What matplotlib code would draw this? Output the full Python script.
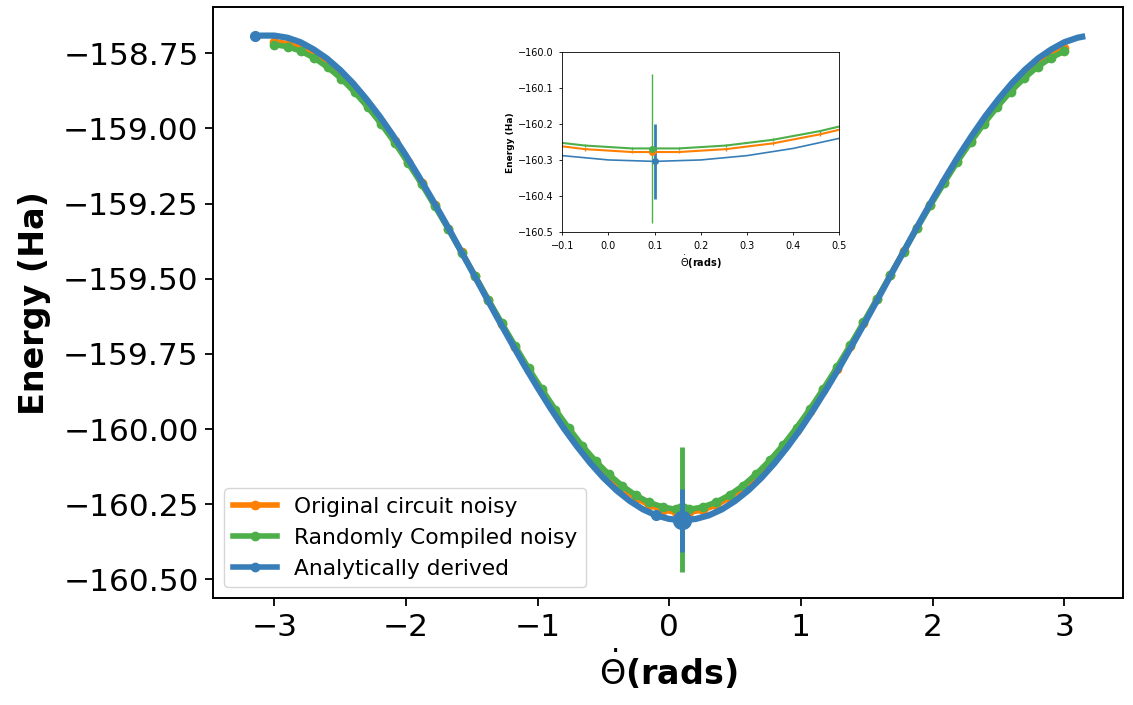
import matplotlib
matplotlib.use("Agg")
import matplotlib.pyplot as plt
from matplotlib.ticker import FuncFormatter
from matplotlib.lines import Line2D

# ---------------- data ----------------
# analytic curve (theta in rads, energy in Ha)
theta_an = [-3.142, -3.1, -3.0, -2.9, -2.8, -2.7, -2.6, -2.5, -2.4, -2.3, -2.2, -2.1,
            -2.0, -1.9, -1.8, -1.7, -1.6, -1.5, -1.4, -1.3, -1.2, -1.1, -1.0, -0.9,
            -0.8, -0.7, -0.6, -0.5, -0.4, -0.3, -0.2, -0.1, 0.0, 0.1, 0.2, 0.3, 0.4,
            0.5, 0.6, 0.7, 0.8, 0.9, 1.0, 1.1, 1.2, 1.3, 1.4, 1.5, 1.6, 1.7, 1.8, 1.9,
            2.0, 2.1, 2.2, 2.3, 2.4, 2.5, 2.6, 2.7, 2.8, 2.9, 3.0, 3.1, 3.135]
energy_an = [-158.694, -158.691, -158.691, -158.698, -158.713, -158.737, -158.767,
             -158.805, -158.850, -158.902, -158.959, -159.022, -159.089, -159.161,
             -159.236, -159.313, -159.393, -159.473, -159.554, -159.634, -159.712,
             -159.789, -159.862, -159.932, -159.998, -160.058, -160.113, -160.162,
             -160.204, -160.239, -160.267, -160.287, -160.299, -160.303, -160.299,
             -160.287, -160.267, -160.239, -160.204, -160.162, -160.113, -160.058,
             -159.998, -159.932, -159.862, -159.789, -159.712, -159.634, -159.554,
             -159.473, -159.393, -159.313, -159.236, -159.161, -159.089, -159.022,
             -158.959, -158.902, -158.850, -158.805, -158.767, -158.737, -158.713,
             -158.698, -158.695]

# noisy simulations
theta_noisy = [-3.0000, -2.8983, -2.7966, -2.6949, -2.5932, -2.4915, -2.3898, -2.2881,
               -2.1864, -2.0847, -1.9831, -1.8814, -1.7797, -1.6780, -1.5763, -1.4746,
               -1.3729, -1.2712, -1.1695, -1.0678, -0.9661, -0.8644, -0.7627, -0.6610,
               -0.5593, -0.4576, -0.3559, -0.2542, -0.1525, -0.0508, 0.0508, 0.1525,
               0.2542, 0.3559, 0.4576, 0.5593, 0.6610, 0.7627, 0.8644, 0.9661, 1.0678,
               1.1695, 1.2712, 1.3729, 1.4746, 1.5763, 1.6780, 1.7797, 1.8814, 1.9831,
               2.0847, 2.1864, 2.2881, 2.3898, 2.4915, 2.5932, 2.6949, 2.7966, 2.8983,
               3.0000]
energy_orig = [-158.711, -158.718, -158.733, -158.757, -158.788, -158.826, -158.871,
               -158.922, -158.980, -159.042, -159.110, -159.181, -159.256, -159.333,
               -159.411, -159.491, -159.571, -159.650, -159.727, -159.802, -159.873,
               -159.941, -160.004, -160.062, -160.114, -160.159, -160.198, -160.229,
               -160.253, -160.269, -160.277, -160.277, -160.269, -160.253, -160.228,
               -160.197, -160.158, -160.112, -160.060, -160.002, -159.939, -159.871,
               -159.799, -159.724, -159.647, -159.568, -159.488, -159.409, -159.330,
               -159.253, -159.179, -159.108, -159.040, -158.978, -158.920, -158.869,
               -158.824, -158.786, -158.756, -158.733]
energy_rc = [-158.721, -158.728, -158.743, -158.766, -158.797, -158.834, -158.879,
             -158.930, -158.986, -159.048, -159.115, -159.185, -159.259, -159.335,
             -159.413, -159.491, -159.570, -159.648, -159.724, -159.798, -159.868,
             -159.935, -159.997, -160.055, -160.106, -160.151, -160.189, -160.220,
             -160.244, -160.259, -160.267, -160.267, -160.259, -160.243, -160.219,
             -160.188, -160.149, -160.104, -160.053, -159.995, -159.933, -159.866,
             -159.795, -159.721, -159.645, -159.567, -159.488, -159.410, -159.332,
             -159.256, -159.183, -159.112, -159.046, -158.984, -158.928, -158.877,
             -158.833, -158.795, -158.765, -158.743]
noisy_err = 0.004

# optimum points with error bars
opt_theta_noisy = 0.095
opt_orig, opt_orig_err = -160.278, 0.004
opt_rc, opt_rc_err = -160.268, 0.207
opt_theta_an = 0.1
opt_an, opt_an_err = -160.303, 0.105
extra_an_theta, extra_an_energy = -0.1, -160.287

main_yticks = [-158.75, -159.0, -159.25, -159.5, -159.75, -160.0, -160.25, -160.5]
inset_xticks = [-0.1, 0.0, 0.1, 0.2, 0.3, 0.4, 0.5]
inset_yticks = [-160.0, -160.1, -160.2, -160.3, -160.4, -160.5]

labels = ["Original circuit noisy", "Randomly Compiled noisy", "Analytically derived"]
C_OR, C_GR, C_BL = "#ff7f00", "#4daf4a", "#377eb8"


def fmt(nd):
    return FuncFormatter(lambda v, p: f"{v:.{nd}f}".replace('-', '\u2212'))


# ---------------- figure ----------------
fig = plt.figure(figsize=(11.33, 7.05), dpi=100)
ax = fig.add_axes([0.1883, 0.1513, 0.9914 - 0.1883, 0.9896 - 0.1513])

ax.plot(theta_noisy, energy_orig, color=C_OR, lw=4, marker='o', ms=6, zorder=2)
ax.plot(theta_noisy, energy_rc, color=C_GR, lw=4, marker='o', ms=6, zorder=3)
ax.errorbar([opt_theta_noisy], [opt_orig], yerr=[opt_orig_err], color=C_OR, marker='o',
            ms=10, elinewidth=3, zorder=3)
ax.errorbar([opt_theta_noisy], [opt_rc], yerr=[opt_rc_err], color=C_GR, marker='o',
            ms=10, elinewidth=3.5, zorder=3.5)
ax.plot(theta_an, energy_an, color=C_BL, lw=4.5, zorder=4)
ax.plot([theta_an[0]], [energy_an[0]], color=C_BL, marker='o', ms=7, zorder=4)
ax.plot([extra_an_theta], [extra_an_energy], color=C_BL, marker='o', ms=7, zorder=4)
ax.errorbar([opt_theta_an], [opt_an], yerr=[opt_an_err], color=C_BL, marker='o',
            ms=13, elinewidth=3.5, zorder=5)

ax.set_xlim(-3.462, 3.447)
ax.set_ylim(-160.563, -158.597)
ax.set_yticks(main_yticks)
ax.yaxis.set_major_formatter(fmt(2))
ax.tick_params(labelsize=22.5, length=6, width=1.3, pad=4.5)
for s in ax.spines.values():
    s.set_linewidth(1.4)
ax.set_xlabel(r'$\dot{\Theta}$(rads)', fontsize=24, fontweight='bold')
ax.set_ylabel('Energy (Ha)', fontsize=24, fontweight='bold', labelpad=9)

handles = [Line2D([], [], color=c, lw=4, marker='o', ms=6) for c in (C_OR, C_GR, C_BL)]
ax.legend(handles, labels, loc='lower left', fontsize=15.7, framealpha=0.8,
          handlelength=2.0, borderaxespad=0.5)

# ---------------- inset ----------------
ins = fig.add_axes([0.4963, 0.6705, 0.2445, 0.2553])
ins.errorbar(theta_noisy, energy_orig, yerr=noisy_err, color=C_OR, lw=1.5, elinewidth=1)
ins.errorbar(theta_noisy, energy_rc, yerr=noisy_err, color=C_GR, lw=1.5, elinewidth=1)
ins.plot(theta_an, energy_an, color=C_BL, lw=1.2)
ins.errorbar([opt_theta_noisy], [opt_orig], yerr=[opt_orig_err], color=C_OR, marker='o', ms=4)
ins.errorbar([opt_theta_noisy], [opt_rc], yerr=[opt_rc_err], color=C_GR, marker='o', ms=4,
             elinewidth=1)
ins.errorbar([opt_theta_an], [opt_an], yerr=[opt_an_err], color=C_BL, marker='o', ms=4,
             elinewidth=2)
ins.set_xlim(-0.1, 0.5)
ins.set_ylim(-160.5, -160.0)
ins.set_xticks(inset_xticks)
ins.set_yticks(inset_yticks)
ins.yaxis.set_major_formatter(fmt(1))
ins.xaxis.set_major_formatter(fmt(1))
ins.tick_params(labelsize=7, length=2.5, width=0.6)
for s in ins.spines.values():
    s.set_linewidth(0.6)
ins.set_xlabel(r'$\dot{\Theta}$(rads)', fontsize=7, fontweight='bold', labelpad=2)
ins.set_ylabel('Energy (Ha)', fontsize=6.5, fontweight='bold', labelpad=2)

fig.savefig("out.png", dpi=100)
